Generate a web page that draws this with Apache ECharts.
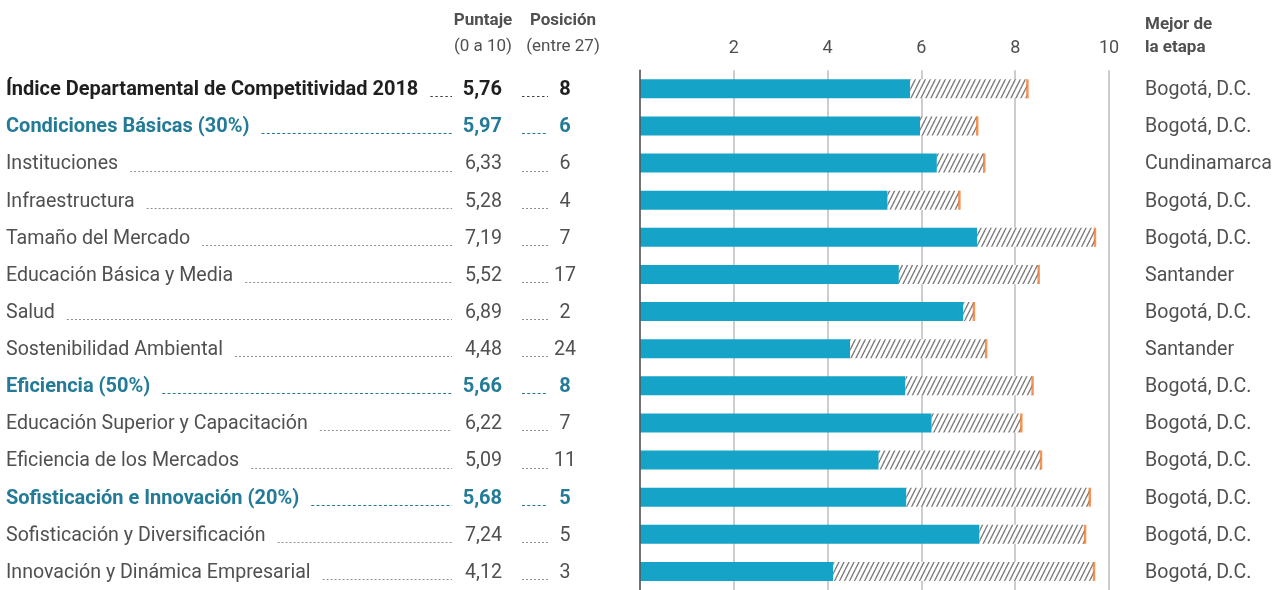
<!DOCTYPE html>
<html>
<head>
<meta charset="utf-8">
<script src="https://cdn.jsdelivr.net/npm/echarts@6/dist/echarts.min.js"></script>
<style>
  html, body { margin: 0; padding: 0; background: #fff; }
  #chart { width: 1283px; height: 590px; }
</style>
</head>
<body>
<div id="chart"></div>
<script>
// Indicator names, top to bottom
const categories = [
  'Índice Departamental de Competitividad 2018',
  'Condiciones Básicas (30%)',
  'Instituciones',
  'Infraestructura',
  'Tamaño del Mercado',
  'Educación Básica y Media',
  'Salud',
  'Sostenibilidad Ambiental',
  'Eficiencia (50%)',
  'Educación Superior y Capacitación',
  'Eficiencia de los Mercados',
  'Sofisticación e Innovación (20%)',
  'Sofisticación y Diversificación',
  'Innovación y Dinámica Empresarial'
];
// 0 = overall index, 1 = factor (weighted), 2 = pillar
const levels = [0, 1, 2, 2, 2, 2, 2, 2, 1, 2, 2, 1, 2, 2];
// Department score (0 a 10)
const scores = [5.76, 5.97, 6.33, 5.28, 7.19, 5.52, 6.89, 4.48, 5.66, 6.22, 5.09, 5.68, 7.24, 4.12];
// Ranking among 27 departments
const positions = [8, 6, 6, 4, 7, 17, 2, 24, 8, 7, 11, 5, 5, 3];
// Score of the best department in the stage
const bestScores = [8.26, 7.19, 7.34, 6.81, 9.70, 8.50, 7.12, 7.38, 8.37, 8.13, 8.55, 9.59, 9.49, 9.68];
const bestNames = [
  'Bogotá, D.C.', 'Bogotá, D.C.', 'Cundinamarca', 'Bogotá, D.C.', 'Bogotá, D.C.',
  'Santander', 'Bogotá, D.C.', 'Santander', 'Bogotá, D.C.', 'Bogotá, D.C.',
  'Bogotá, D.C.', 'Bogotá, D.C.', 'Bogotá, D.C.', 'Bogotá, D.C.'
];
const axisTicks = [2, 4, 6, 8, 10];

const FONT = 'Roboto, "Noto Sans", sans-serif';
const TEXT_GRAY = '#505050';
const TEAL = '#237b97';
const DARK = '#1f1f1f';
const BAR_BLUE = '#15a3c8';
const ORANGE = '#f47b2e';

function levelStyle(level) {
  if (level === 0) return { font: 'bold 20px ' + FONT, color: DARK, dash: '#444', dashPattern: [2.5, 2.5] };
  if (level === 1) return { font: 'bold 20px ' + FONT, color: TEAL, dash: TEAL, dashPattern: [3, 2.2] };
  return { font: '19.6px ' + FONT, color: TEXT_GRAY, dash: '#8f8f8f', dashPattern: [2, 2] };
}

const measureCtx = document.createElement('canvas').getContext('2d');
function textWidth(text, font) {
  measureCtx.font = font;
  return measureCtx.measureText(text).width;
}

// Diagonal hatch tile for the gap up to the best score
function hatchPattern() {
  const w = 5, h = 10;
  const c = document.createElement('canvas');
  c.width = w; c.height = h;
  const g = c.getContext('2d');
  g.fillStyle = '#ffffff';
  g.fillRect(0, 0, w, h);
  g.strokeStyle = '#7a7a7a';
  g.lineWidth = 1.3;
  for (const dx of [-w, 0, w]) {
    g.beginPath();
    g.moveTo(dx, h);
    g.lineTo(dx + w, 0);
    g.stroke();
  }
  return c;
}

const fmt = v => v.toFixed(2).replace('.', ',');

const chart = echarts.init(document.getElementById('chart'), null, { renderer: 'canvas' });

const headFont = 'bold 17px ' + FONT;
const subFont = '17px ' + FONT;

const option = {
  animation: false,
  backgroundColor: '#ffffff',
  textStyle: { fontFamily: FONT },
  grid: { left: 640, width: 469, top: 70.2, height: 525.6, containLabel: false },
  xAxis: {
    type: 'value',
    position: 'top',
    min: 0, max: 10, interval: 2,
    axisLine: { show: false },
    axisTick: { show: false },
    splitLine: { show: true, lineStyle: { color: '#bdbdbd', width: 1.5 } },
    axisLabel: {
      showMinLabel: false,
      margin: 13,
      color: TEXT_GRAY,
      fontSize: 18,
      fontFamily: FONT,
      formatter: v => axisTicks.includes(v) ? String(v) : ''
    }
  },
  yAxis: {
    type: 'category',
    inverse: true,
    data: categories,
    z: 10,
    axisLine: { show: true, lineStyle: { color: '#555555', width: 1.5 } },
    axisTick: { show: false },
    axisLabel: { show: false },
    splitLine: { show: false }
  },
  graphic: [
    { type: 'text', x: 483, y: 21, style: { text: 'Puntaje', font: headFont, fill: TEXT_GRAY, align: 'center', verticalAlign: 'middle' } },
    { type: 'text', x: 563, y: 21, style: { text: 'Posición', font: headFont, fill: TEXT_GRAY, align: 'center', verticalAlign: 'middle' } },
    { type: 'text', x: 483, y: 47, style: { text: '(0 a 10)', font: subFont, fill: TEXT_GRAY, align: 'center', verticalAlign: 'middle' } },
    { type: 'text', x: 563, y: 47, style: { text: '(entre 27)', font: subFont, fill: TEXT_GRAY, align: 'center', verticalAlign: 'middle' } },
    { type: 'text', x: 1145, y: 25, style: { text: 'Mejor de', font: headFont, fill: TEXT_GRAY, align: 'left', verticalAlign: 'middle' } },
    { type: 'text', x: 1145, y: 48, style: { text: 'la etapa', font: headFont, fill: TEXT_GRAY, align: 'left', verticalAlign: 'middle' } }
  ],
  series: [
    {
      name: 'Puntaje',
      type: 'bar',
      stack: 'score',
      barWidth: 19,
      itemStyle: { color: BAR_BLUE },
      data: scores
    },
    {
      name: 'Brecha',
      type: 'bar',
      stack: 'score',
      barWidth: 19,
      itemStyle: { color: { image: hatchPattern(), repeat: 'repeat' } },
      data: bestScores.map((b, i) => +(b - scores[i]).toFixed(2))
    },
    {
      name: 'Mejor',
      type: 'scatter',
      symbol: 'rect',
      symbolSize: [2.5, 19],
      itemStyle: { color: ORANGE },
      z: 5,
      data: bestScores.map((b, i) => [b, i])
    },
    {
      // Row texts: indicator, leaders, score, ranking and best department
      name: 'Textos',
      type: 'custom',
      clip: false,
      silent: true,
      data: categories.map((c, i) => [0, i]),
      renderItem(params, api) {
        const i = params.dataIndex;
        const yc = api.coord([0, api.value(1)])[1];
        const y = yc + 1.5;
        const st = levelStyle(levels[i]);
        const label = categories[i];
        const lw = textWidth(label, st.font);
        const dashY = Math.round(yc + 7.5) + 0.5;
        const dashStyle = { stroke: st.dash, lineWidth: 1, lineDash: st.dashPattern };
        return {
          type: 'group',
          children: [
            { type: 'text', x: 6, y: y, style: { text: label, font: st.font, fill: st.color, align: 'left', verticalAlign: 'middle' } },
            { type: 'line', shape: { x1: 6 + lw + 12, y1: dashY, x2: 452, y2: dashY }, style: dashStyle },
            { type: 'text', x: 502, y: y, style: { text: fmt(scores[i]), font: st.font, fill: st.color, align: 'right', verticalAlign: 'middle' } },
            { type: 'line', shape: { x1: 522, y1: dashY, x2: 548, y2: dashY }, style: dashStyle },
            { type: 'text', x: 565, y: y, style: { text: String(positions[i]), font: st.font, fill: st.color, align: 'center', verticalAlign: 'middle' } },
            { type: 'text', x: 1145, y: y, style: { text: bestNames[i], font: '19.6px ' + FONT, fill: TEXT_GRAY, align: 'left', verticalAlign: 'middle' } }
          ]
        };
      }
    }
  ]
};

chart.setOption(option);
</script>
</body>
</html>
